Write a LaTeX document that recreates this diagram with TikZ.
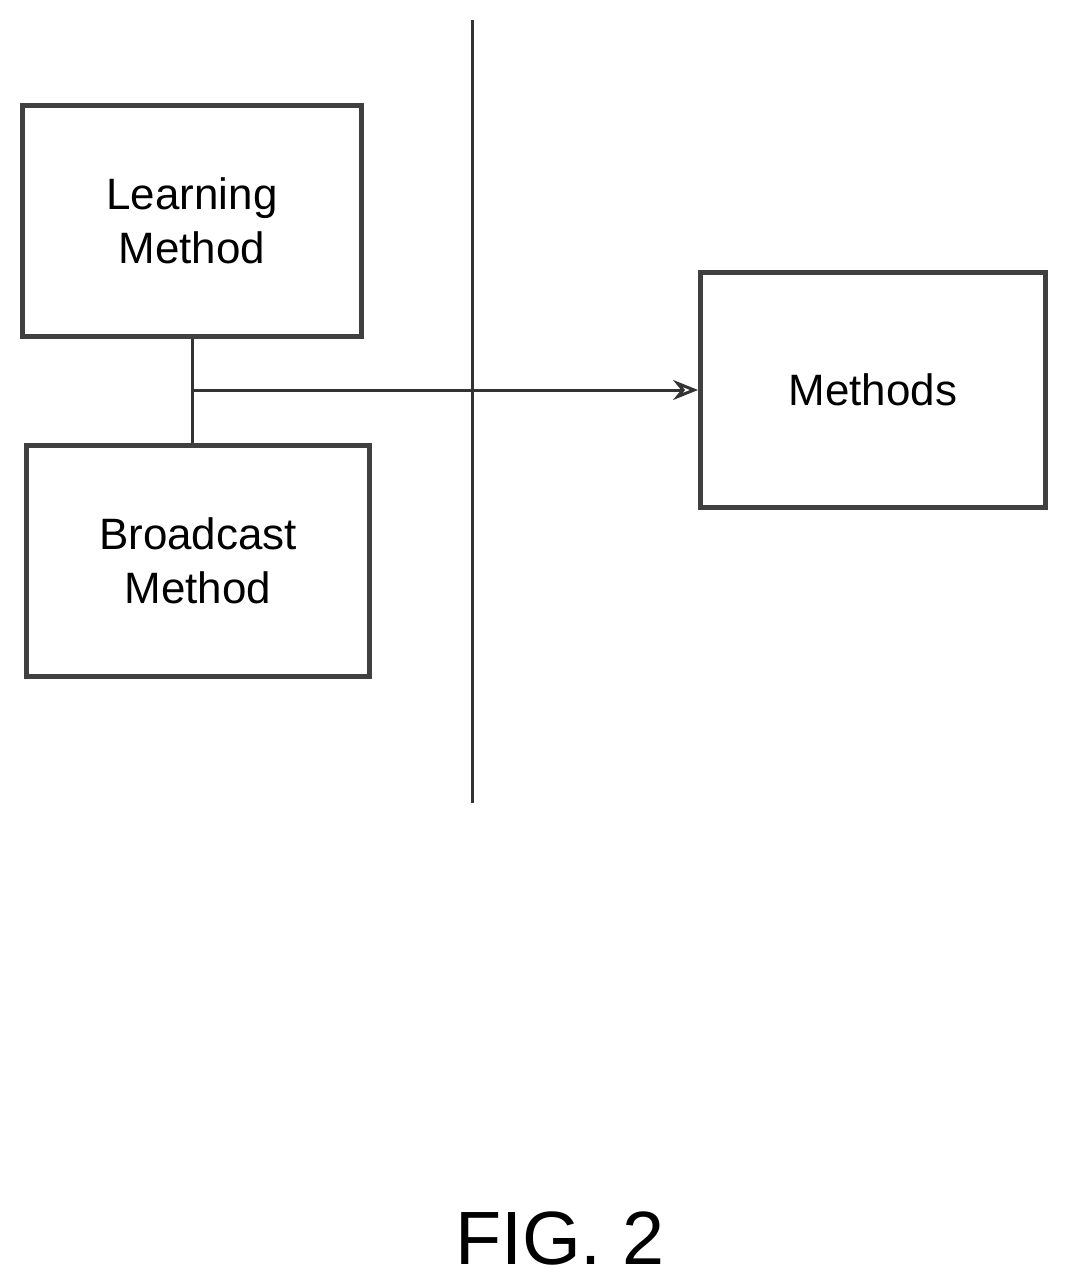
\documentclass[tikz,border=0pt]{standalone}
\usepackage{fontspec}
\setmainfont{Liberation Sans}
\usetikzlibrary{positioning, arrows.meta}
\tikzset{
  box/.style={draw=black!75, line width=0.1cm, minimum width=6.8cm, minimum height=4.64cm, align=center, font=\fontsize{25}{31}\selectfont},
  link/.style={draw=black!80, line width=0.06cm}
}
\begin{document}
\begin{tikzpicture}[x=0.02cm, y=-0.02cm]
  \useasboundingbox (0,0) rectangle (1068,1284);
  \node[box] (learning) at (192,221) {Learning\\Method};
  \node[box, minimum width=6.88cm] (broadcast) at (198,561) {Broadcast\\Method};
  \node[box, minimum width=6.9cm, minimum height=4.7cm] (methods) at (873,390) {Methods};

  \coordinate (top) at (472,20);
  \coordinate (bottom) at (472,803);
  \draw[link] (top) -- (bottom);

  \draw[link] (learning.south) -- (learning.south |- broadcast.north);
  \coordinate (junction) at (192,390);
  \draw[link, -{Stealth[length=0.5cm, width=0.4cm, open]}] (junction) -- (methods.west);

  \node[font=\fontsize{43}{50}\selectfont] (fig) at (560,1238) {FIG. 2};
\end{tikzpicture}
\end{document}
